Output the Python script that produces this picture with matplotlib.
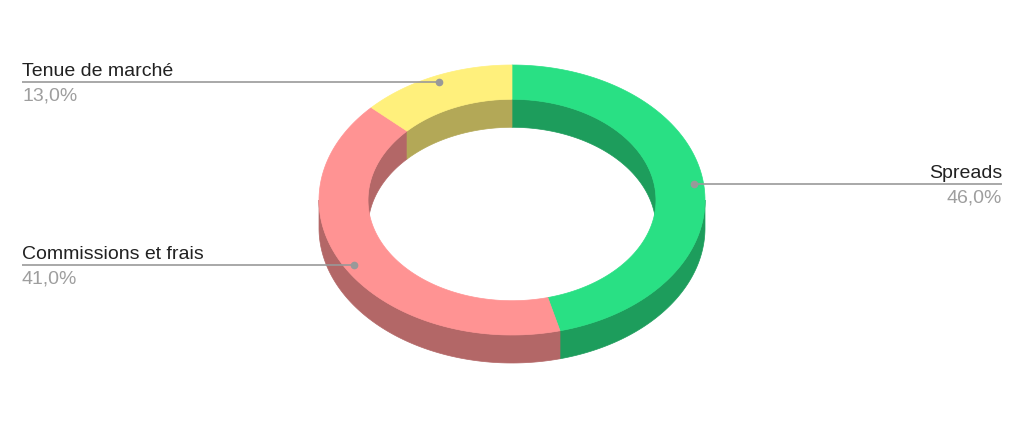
import numpy as np
import matplotlib.pyplot as plt
from matplotlib.patches import Polygon

labels = ["Spreads", "Commissions et frais", "Tenue de marché"]
values = [46.0, 41.0, 13.0]
colors = ["#29e084", "#ff9393", "#fff07c"]

# geometry of the tilted ring, in pixels
cx, cy = 512, 200
a_out, b_out = 193, 135
ratio_in = 0.746
depth = 28

def shade(hex_color, k=0.7):
    r, g, b = (int(hex_color[i:i + 2], 16) / 255 for i in (1, 3, 5))
    return (r * k, g * k, b * k)

def arc(t1, t2, scale, dy=0, n=120):
    t = np.radians(np.linspace(t1, t2, n))
    return np.column_stack([cx + a_out * scale * np.sin(t),
                            cy - b_out * scale * np.cos(t) + dy])

fig = plt.figure(figsize=(10.24, 4.29), dpi=100)
ax = fig.add_axes([0, 0, 1, 1])
ax.set_xlim(0, 1024)
ax.set_ylim(429, 0)
ax.axis("off")

total = sum(values)
bounds = np.concatenate([[0], np.cumsum(values) / total * 360])

# outer walls (front half)
for i, c in enumerate(colors):
    t1, t2 = max(bounds[i], 90), min(bounds[i + 1], 270)
    if t2 > t1:
        top = arc(t1, t2, 1)
        bot = arc(t2, t1, 1, depth)
        ax.add_patch(Polygon(np.vstack([top, bot]), fc=shade(c), ec=shade(c), lw=0.5))

# inner walls (far half)
for i, c in enumerate(colors):
    for lo, hi in [(-90, 90), (270, 450)]:
        t1, t2 = max(bounds[i], lo), min(bounds[i + 1], hi)
        if t2 > t1:
            top = arc(t1, t2, ratio_in)
            bot = arc(t2, t1, ratio_in, depth)
            ax.add_patch(Polygon(np.vstack([top, bot]), fc=shade(c), ec=shade(c), lw=0.5))

# top faces
for i, c in enumerate(colors):
    outer = arc(bounds[i], bounds[i + 1], 1)
    inner = arc(bounds[i + 1], bounds[i], ratio_in)
    ax.add_patch(Polygon(np.vstack([outer, inner]), fc=c, ec=c, lw=0.5))

# leader lines and labels
for i, (lab, v) in enumerate(zip(labels, values)):
    mid = np.radians((bounds[i] + bounds[i + 1]) / 2)
    dx = cx + a_out * 0.95 * np.sin(mid)
    dy = cy - b_out * 0.95 * np.cos(mid)
    right = np.sin(mid) > 0
    ex = 1002 if right else 22
    ha = "right" if right else "left"
    ax.plot([dx, ex], [dy, dy], color="#999999", lw=1.2, solid_capstyle="butt")
    ax.plot(dx, dy, "o", color="#999999", ms=4.5)
    ax.text(ex, dy - 6, lab, ha=ha, va="baseline", fontsize=14,
            family="Liberation Sans", color="#212121")
    ax.text(ex, dy + 18.5, f"{v:.1f}%".replace(".", ","), ha=ha, va="baseline",
            fontsize=14, family="Liberation Sans", color="#9e9e9e")

fig.savefig("out.png", dpi=100)
